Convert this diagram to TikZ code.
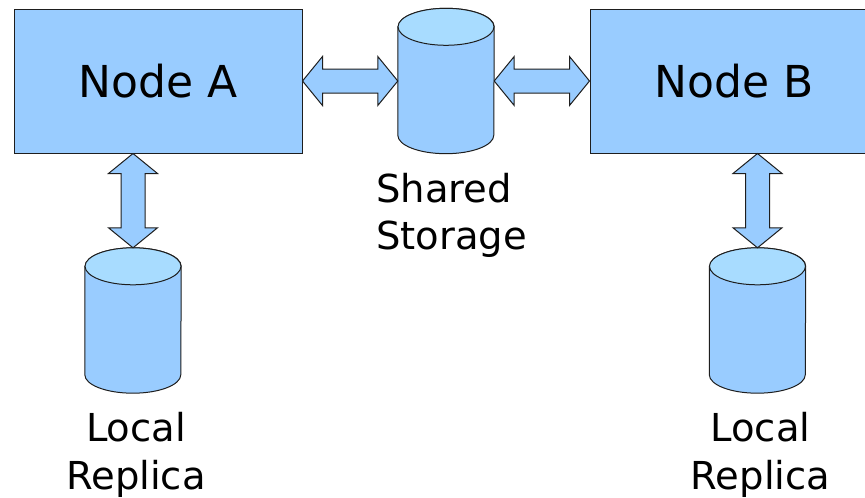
\documentclass[tikz,border=0pt]{standalone}
\usepackage{fontspec}
\setmainfont{DejaVu Sans}
\usetikzlibrary{positioning,calc}

\definecolor{boxblue}{HTML}{99CCFF}
\definecolor{capblue}{HTML}{A8DCFF}
\definecolor{edgegray}{HTML}{1E1E1E}

% two-headed block arrow from node to node
\newcommand{\fatarrow}[2]{%
  \coordinate (h1) at ($(#1)!20pt!(#2)$);
  \coordinate (h2) at ($(#2)!20pt!(#1)$);
  \draw[fat] (#1) -- ($(h1)!24.5pt!90:(#2)$) -- ($(h1)!12pt!90:(#2)$)
    -- ($(h2)!12pt!-90:(#1)$) -- ($(h2)!24.5pt!-90:(#1)$) -- (#2)
    -- ($(h2)!24.5pt!90:(#1)$) -- ($(h2)!12pt!90:(#1)$)
    -- ($(h1)!12pt!-90:(#2)$) -- ($(h1)!24.5pt!-90:(#2)$) -- cycle;
}

% cylinder drawn inside a disk node
\newcommand{\drawdisk}[1]{%
  \draw[fat] ($(#1.north west)+(0pt,-18.5pt)$) -- ($(#1.south west)+(0pt,18.5pt)$)
    arc[start angle=180,end angle=360,x radius=48pt,y radius=18.5pt]
    -- ($(#1.north east)+(0pt,-18.5pt)$)
    arc[start angle=0,end angle=180,x radius=48pt,y radius=18.5pt] -- cycle;
  \draw[fat,fill=capblue] ($(#1.north)+(0pt,-18.5pt)$) ellipse[x radius=48pt,y radius=18.5pt];
}

\begin{document}
\begin{tikzpicture}[
  x=1pt, y=-1pt,
  server/.style={draw=edgegray,fill=boxblue,line width=1pt,minimum width=288pt,
    minimum height=144pt,inner sep=0pt,font=\fontsize{44}{53}\selectfont},
  disk/.style={minimum width=96pt,minimum height=145pt,inner sep=0pt},
  caption/.style={align=center,inner sep=0pt,font=\fontsize{38.5}{47.5}\selectfont},
  fat/.style={draw=edgegray,fill=boxblue,line width=1pt,line join=miter}
]
\useasboundingbox (0,0) rectangle (865,498);
\clip (0,0) rectangle (865,498);

\node[server] (a) at (158,81) {Node A};
\node[server] (b) at (734,81) {Node B};
\node[disk] (s) at (446,81) {};
\node[disk] (la) at (133,320.5) {};
\node[disk] (lb) at (757.5,320.5) {};
\drawdisk{s}
\drawdisk{la}
\drawdisk{lb}

\node[caption,align=left,below=19pt of s,xshift=5.5pt] (st) {Shared\\Storage};
\node[caption,below=19pt of la,xshift=3pt] (lat) {Local\\Replica};
\node[caption,below=19pt of lb,xshift=3pt] (lbt) {Local\\Replica};

\fatarrow{a.east}{s.west}
\fatarrow{s.east}{b.west}
\fatarrow{la |- a.south}{la.north}
\fatarrow{lb |- b.south}{lb.north}

\end{tikzpicture}
\end{document}
